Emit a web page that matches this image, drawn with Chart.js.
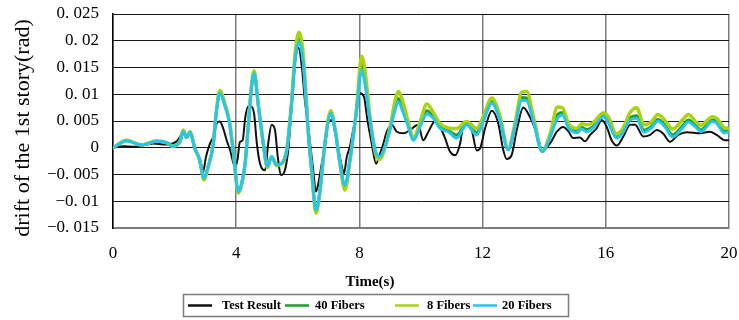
<!DOCTYPE html>
<html>
<head>
<meta charset="utf-8">
<script src="https://cdn.jsdelivr.net/npm/chart.js@4.4.1/dist/chart.umd.min.js"></script>
<style>html,body{margin:0;padding:0;background:#fff;}canvas{display:block;}</style>
</head>
<body>
<canvas id="c" width="739" height="320"></canvas>
<script>
// ---- data ----
const seriesNames = ['Test Result', '40 Fibers', '8 Fibers', '20 Fibers'];
const xTickLabels = ['0', '4', '8', '12', '16', '20'];
const yTickLabels = ['\u22120. 015', '\u22120. 01', '\u22120. 005', '0', '0. 005', '0. 01', '0. 015', '0. 02', '0. 025'];
const xTitle = 'Time(s)';
const yTitle = 'drift of the 1st story(rad)';

const fiberTime = [
  0, 0.44, 0.93, 1.42, 1.80, 1.92, 2.18, 2.28, 2.39, 2.50,
  2.66, 2.82, 2.95, 3.09, 3.26, 3.34, 3.47, 3.64, 3.78, 3.91,
  4.07, 4.18, 4.29, 4.39, 4.50, 4.58, 4.72, 4.88, 5.01, 5.15,
  5.31, 5.48, 5.64, 5.80, 5.91, 6.04, 6.18, 6.23, 6.34, 6.45,
  6.59, 6.72, 6.88, 7.07, 7.21, 7.37, 7.53, 7.69, 7.91, 8.07,
  8.18, 8.34, 8.51, 8.65, 8.83, 8.99, 9.16, 9.26, 9.43, 9.59,
  9.75, 9.97, 10.19, 10.40, 10.62, 10.89, 11.16, 11.48, 11.81, 12.02,
  12.30, 12.56, 12.83, 13.05, 13.27, 13.43, 13.65, 13.94, 14.20, 14.43,
  14.59, 14.79, 15.06, 15.22, 15.38, 15.59, 15.92, 16.08, 16.35, 16.54,
  16.79, 17.00, 17.24, 17.48, 17.69, 17.91, 18.17, 18.51, 18.68, 18.93,
  19.09, 19.46, 19.60, 19.84, 20.0
];
const fiber20 = [
  0, 0.0013, 0.0005, 0.0012, 0.0008, 0.0003, 0.0012, 0.0031, 0.0019, 0.0029,
  -0.0002, -0.0023, -0.0057, -0.0035, 0.0008, 0.0058, 0.0102, 0.0077, 0.0046, -0.001,
  -0.0082, -0.0066, -0.0029, 0.0039, 0.0114, 0.0139, 0.0077, 0.0008, -0.0035, -0.0017,
  -0.0032, -0.0029, -0.0004, 0.0083, 0.0164, 0.0198, 0.0158, 0.012, 0.0027, -0.0042,
  -0.0116, -0.0079, 0.0008, 0.0064, 0.0033, -0.0029, -0.007, -0.0023, 0.0071, 0.0145,
  0.012, 0.0052, -0.0004, -0.0017, 0.0002, 0.0033, 0.0071, 0.0086, 0.0064, 0.0039,
  0.0014, 0.0039, 0.0063, 0.0055, 0.0036, 0.003, 0.0018, 0.0043, 0.0024, 0.0049,
  0.0083, 0.0052, -0.0004, 0.0039, 0.0089, 0.0088, 0.0049, -0.0007, 0.0021, 0.0055,
  0.0061, 0.0037, 0.0028, 0.0035, 0.003, 0.0037, 0.0058, 0.0047, 0.0018, 0.0027,
  0.0052, 0.0055, 0.0029, 0.0037, 0.005, 0.004, 0.002, 0.0038, 0.0048, 0.0038,
  0.003, 0.0049, 0.0046, 0.0028, 0.003
];
const fiber8 = [
  0, 0.0014, 0.0005, 0.0013, 0.0008, 0.0003, 0.0013, 0.0033, 0.0019, 0.003,
  -0.0002, -0.0024, -0.006, -0.0036, 0.001, 0.006, 0.0107, 0.0081, 0.005, -0.0008,
  -0.0085, -0.0068, -0.003, 0.004, 0.0118, 0.0144, 0.008, 0.0008, -0.0037, -0.0017,
  -0.0033, -0.003, -0.0004, 0.0088, 0.0175, 0.0216, 0.0172, 0.013, 0.0032, -0.0043,
  -0.0122, -0.0083, 0.0008, 0.0069, 0.0036, -0.003, -0.0079, -0.0026, 0.0075, 0.0171,
  0.0145, 0.006, -0.0008, -0.0022, 0, 0.0038, 0.0088, 0.0105, 0.0082, 0.0048,
  0.0018, 0.0048, 0.0082, 0.0066, 0.0045, 0.0037, 0.0036, 0.0049, 0.0036, 0.0058,
  0.0093, 0.006, -0.0002, 0.0045, 0.0104, 0.0105, 0.0058, -0.0006, 0.0028, 0.0076,
  0.0075, 0.0045, 0.0036, 0.0045, 0.0043, 0.0047, 0.0065, 0.0058, 0.0026, 0.0035,
  0.0066, 0.0075, 0.0043, 0.0048, 0.0062, 0.0052, 0.0035, 0.0053, 0.0062, 0.0048,
  0.0042, 0.0058, 0.0055, 0.0038, 0.0036
];
const fiber40 = [
  0, 0.0013, 0.0005, 0.0012, 0.0008, 0.0003, 0.0012, 0.0032, 0.0019, 0.003,
  -0.0002, -0.0023, -0.0058, -0.0035, 0.0009, 0.0059, 0.0104, 0.0079, 0.0048, -0.0009,
  -0.0083, -0.0067, -0.0029, 0.0039, 0.0116, 0.0141, 0.0078, 0.0008, -0.0036, -0.0017,
  -0.0032, -0.0029, -0.0004, 0.0085, 0.0168, 0.0205, 0.0163, 0.0124, 0.0029, -0.0042,
  -0.0119, -0.008, 0.0008, 0.0066, 0.0034, -0.0029, -0.0073, -0.0024, 0.0072, 0.0155,
  0.0128, 0.0055, -0.0005, -0.0019, 0.0001, 0.0035, 0.0076, 0.0092, 0.007, 0.0042,
  0.0015, 0.0042, 0.0069, 0.0058, 0.0039, 0.0032, 0.0024, 0.0045, 0.0028, 0.0052,
  0.0086, 0.0055, -0.0003, 0.0041, 0.0094, 0.0093, 0.0052, -0.0007, 0.0023, 0.0062,
  0.0066, 0.004, 0.003, 0.0038, 0.0034, 0.004, 0.006, 0.005, 0.002, 0.0029,
  0.0056, 0.006, 0.0033, 0.004, 0.0053, 0.0043, 0.0024, 0.0042, 0.0052, 0.0041,
  0.0033, 0.0052, 0.0049, 0.0031, 0.0032
];
const testTime = [
  0, 0.33, 0.71, 1.30, 1.69, 2.07, 2.28, 2.39, 2.50, 2.66,
  2.77, 2.91, 3.02, 3.15, 3.26, 3.37, 3.47, 3.58, 3.69, 3.80,
  3.96, 4.04, 4.12, 4.21, 4.29, 4.39, 4.47, 4.58, 4.67, 4.77,
  4.94, 5.04, 5.15, 5.26, 5.35, 5.45, 5.58, 5.69, 5.80, 5.91,
  6.02, 6.13, 6.23, 6.34, 6.40, 6.50, 6.59, 6.67, 6.78, 6.88,
  6.99, 7.10, 7.26, 7.43, 7.50, 7.59, 7.69, 7.86, 8.02, 8.15,
  8.26, 8.40, 8.54, 8.65, 8.78, 8.89, 9.05, 9.21, 9.43, 9.64,
  9.91, 10.07, 10.24, 10.45, 10.62, 10.78, 10.94, 11.10, 11.27, 11.37,
  11.48, 11.65, 11.81, 11.92, 12.08, 12.30, 12.51, 12.67, 12.78, 12.94,
  13.11, 13.32, 13.54, 13.76, 13.94, 14.19, 14.41, 14.62, 14.78, 14.94,
  15.16, 15.32, 15.49, 15.70, 15.87, 16.03, 16.19, 16.36, 16.57, 16.79,
  16.95, 17.22, 17.44, 17.65, 17.87, 18.08, 18.35, 18.63, 19.06, 19.38,
  19.60, 19.87, 20.0
];
const testResult = [
  0, 0.0003, 0.0002, 0.0008, 0.0006, 0.0012, 0.0027, 0.0018, 0.0027, 0.0002,
  -0.0017, -0.0048, -0.0017, 0.0008, 0.0021, 0.0046, 0.0049, 0.0036, 0.0014, -0.0004,
  -0.0035, -0.0023, 0.0011, 0.0014, 0.0055, 0.0077, 0.0077, 0.0064, 0.0008, -0.0029,
  -0.0042, 0.0008, 0.0043, 0.0033, -0.0017, -0.0051, -0.0042, -0.0004, 0.0077, 0.0158,
  0.0187, 0.0152, 0.0089, 0.0039, 0.0008, -0.0042, -0.0082, -0.0066, -0.0029, 0.0002,
  0.0046, 0.0052, 0.0014, -0.0035, -0.0048, -0.0017, 0.0002, 0.0052, 0.0102, 0.0095,
  0.0052, 0.0008, -0.003, -0.0014, 0.0008, 0.003, 0.0043, 0.003, 0.0027, 0.0033,
  0.0043, 0.0014, 0.003, 0.0049, 0.0039, 0.0018, -0.0007, -0.0014, 0.0008, 0.0043,
  0.0049, 0.0033, -0.0005, -0.0001, 0.0036, 0.0069, 0.0045, -0.0004, -0.0021, -0.0014,
  0.0033, 0.0075, 0.0057, 0.0027, -0.0005, 0.0008, 0.003, 0.0039, 0.0031, 0.0018,
  0.0019, 0.0012, 0.0024, 0.0036, 0.0052, 0.0039, 0.0014, 0.0004, 0.0021, 0.0043,
  0.0043, 0.0021, 0.0024, 0.0033, 0.0026, 0.0011, 0.0024, 0.0029, 0.0027, 0.003,
  0.0024, 0.0014, 0.0014
];

// ---- styles ----
const colors = ['#111111', '#259a2c', '#a9d30f', '#22c6ee'];
const widths = [2, 3, 3.5, 3];
const SERIF = '"Liberation Serif", "Times New Roman", serif';

function pts(t, v) { return t.map((x, i) => ({ x: x, y: v[i] })); }

const datasets = [
  { label: seriesNames[0], data: pts(testTime, testResult), order: 4 },
  { label: seriesNames[1], data: pts(fiberTime, fiber40), order: 3 },
  { label: seriesNames[2], data: pts(fiberTime, fiber8), order: 2 },
  { label: seriesNames[3], data: pts(fiberTime, fiber20), order: 1 }
].map((d, i) => Object.assign(d, {
  borderColor: colors[i], backgroundColor: colors[i], borderWidth: widths[i],
  pointRadius: 0, fill: false, cubicInterpolationMode: 'monotone', tension: 0.4,
  borderJoinStyle: 'round', borderCapStyle: 'round'
}));

const bgPlugin = {
  id: 'bg',
  beforeDraw(chart) {
    const c = chart.ctx; c.save(); c.fillStyle = '#fff';
    c.fillRect(0, 0, chart.width, chart.height); c.restore();
  }
};

const textPlugin = {
  id: 'texts',
  afterDraw(chart) {
    const c = chart.ctx;
    c.save();
    c.fillStyle = '#000';
    // y title
    c.save();
    c.translate(23, 128);
    c.rotate(-Math.PI / 2);
    c.font = '22px ' + SERIF;
    c.textAlign = 'center'; c.textBaseline = 'middle';
    c.fillText(yTitle, 0, 0);
    c.restore();
    // x title
    c.font = 'bold 15px ' + SERIF;
    c.textAlign = 'center'; c.textBaseline = 'middle';
    c.fillText(xTitle, 370, 282);
    // legend box
    c.strokeStyle = '#7a7a7a'; c.lineWidth = 1.5;
    c.strokeRect(183.5, 294.5, 385, 22);
    const lineX = [188, 285, 395, 473];
    const textX = [222, 315, 427, 502];
    const ly = 305.5;
    c.font = 'bold 12.5px ' + SERIF;
    c.textAlign = 'left'; c.textBaseline = 'middle';
    for (let i = 0; i < seriesNames.length; i++) {
      c.strokeStyle = colors[i]; c.lineWidth = 2.5;
      c.beginPath(); c.moveTo(lineX[i], ly); c.lineTo(lineX[i] + 24, ly); c.stroke();
      c.fillStyle = '#000';
      c.fillText(seriesNames[i], textX[i], ly);
    }
    c.restore();
  }
};

new Chart(document.getElementById('c'), {
  type: 'line',
  data: { datasets: datasets },
  options: {
    responsive: false,
    animation: false,
    devicePixelRatio: 1,
    layout: { padding: { left: 0, right: 10, top: 14, bottom: 0 } },
    plugins: { legend: { display: false }, tooltip: { enabled: false } },
    scales: {
      x: {
        type: 'linear', min: 0, max: 20,
        ticks: {
          stepSize: 4, maxRotation: 0, autoSkip: false, padding: 15, color: '#000',
          font: { family: SERIF, size: 17 },
          callback: (v) => xTickLabels[Math.round(v / 4)]
        },
        grid: { color: '#7c7c7c', lineWidth: 1.5, drawTicks: false },
        border: { color: '#7c7c7c', width: 2 },
        afterFit: (s) => { s.height = 92; s.paddingLeft = 0; s.paddingRight = 0; }
      },
      y: {
        type: 'linear', min: -0.015, max: 0.025,
        ticks: {
          stepSize: 0.005, autoSkip: false, padding: 14, color: '#000',
          font: { family: SERIF, size: 17 },
          callback: (v) => yTickLabels[Math.round((v + 0.015) / 0.005)]
        },
        grid: { color: '#1a1a1a', lineWidth: 1, drawTicks: false },
        border: { color: '#000', width: 1.5 },
        afterFit: (s) => { s.width = 113; s.paddingTop = 0; s.paddingBottom = 0; }
      }
    }
  },
  plugins: [bgPlugin, textPlugin]
});
</script>
</body>
</html>
